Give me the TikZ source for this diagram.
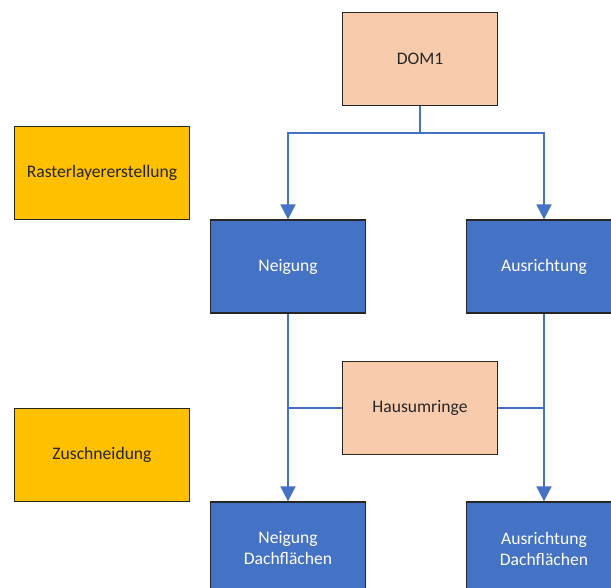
\documentclass[tikz,border=0pt]{standalone}
\usepackage{fontspec}
\setmainfont{Carlito}
\usetikzlibrary{arrows.meta}
\definecolor{peach}{HTML}{F8CBAD}
\definecolor{bluebox}{HTML}{4472C4}
\definecolor{orangebox}{HTML}{FFC000}
\definecolor{conn}{HTML}{4472C4}
\tikzset{
  box/.style={draw=black!85, line width=1.3pt, minimum width=155pt, minimum height=93pt, inner sep=0pt, align=center, font=\fontsize{17.6}{21}\selectfont},
  peachbox/.style={box, fill=peach, text=black!85},
  bluebx/.style={box, fill=bluebox, text=white},
  orangebx/.style={box, fill=orangebox, minimum width=175pt, text=black!85},
  conline/.style={draw=conn, line width=2pt},
  arr/.style={conline, -{Triangle[width=15pt,length=15pt]}}
}
\begin{document}
\begin{tikzpicture}[x=1pt,y=-1pt]
\useasboundingbox (0,0) rectangle (611,587);
\clip (0,0) rectangle (611,587);
\node[peachbox] (dom) at (420,59) {DOM1};
\node[orangebx] (raster) at (102,173) {Rasterlayererstellung};
\node[orangebx] (zusch) at (102,455) {Zuschneidung};
\node[bluebx] (neig) at (288,266.5) {Neigung};
\node[bluebx] (ausr) at (544,266.5) {Ausrichtung};
\node[peachbox] (haus) at (420,408) {Hausumringe};
\node[bluebx] (neigd) at (288,548.5) {Neigung\\Dachflächen};
\node[bluebx] (ausrd) at (544,548.5) {Ausrichtung\\Dachflächen};
\coordinate (split) at (420,133);
\coordinate (jl) at (288,408);
\coordinate (jr) at (544,408);
\draw[conline] (dom.south) -- (split);
\draw[arr] (split) -| (neig.north);
\draw[arr] (split) -| (ausr.north);
\draw[arr] (neig.south) -- (neigd.north);
\draw[arr] (ausr.south) -- (ausrd.north);
\draw[conline] (haus.west) -- (jl);
\draw[conline] (haus.east) -- (jr);
\end{tikzpicture}
\end{document}
